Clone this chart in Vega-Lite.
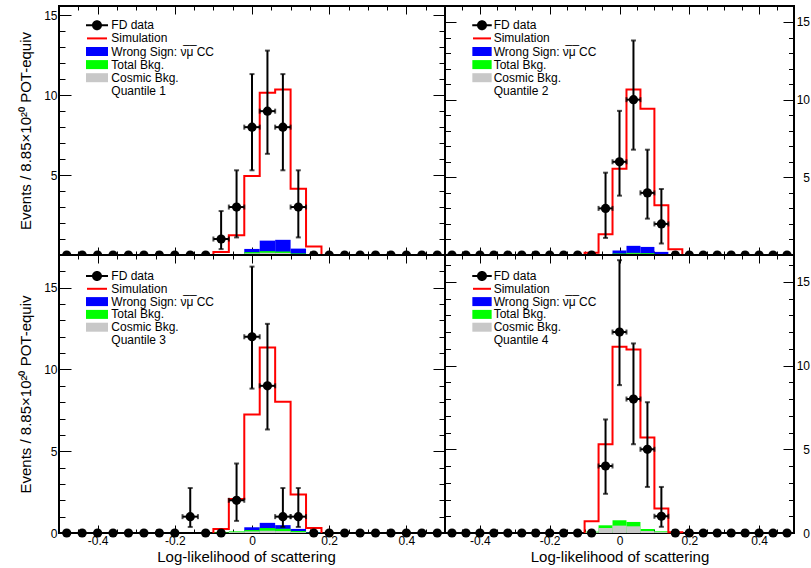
{
  "$schema": "https://vega.github.io/schema/vega-lite/v6.json",
  "padding": {"left": 17, "top": 4, "right": 0, "bottom": 0},
  "background": "white",
  "columns": 2,
  "spacing": 0,
  "bounds": "flush",
  "resolve": {"scale": {"color": "independent", "shape": "independent"}, "legend": {"color": "independent", "shape": "independent"}},
  "config": {
    "font": "Liberation Sans",
    "view": {"stroke": "black", "strokeWidth": 2},
    "axis": {"domain": false, "grid": false, "tickColor": "black", "tickWidth": 1, "labelColor": "black", "labelFont": "Liberation Sans", "labelFontSize": 12, "titleFont": "Liberation Sans", "titleFontSize": 15, "titleFontWeight": "normal", "titleColor": "black", "labelFlush": false, "labelOverlap": false, "zindex": 1},
    "legend": {"labelFont": "Liberation Sans", "labelFontSize": 12, "labelColor": "black", "symbolStrokeWidth": 0, "symbolOpacity": 1, "padding": 0, "titlePadding": 0}
  },
  "datasets": {
    "fd": [
      {"q":1,"x":-0.48,"n":0},{"q":1,"x":-0.44,"n":0},{"q":1,"x":-0.4,"n":0},{"q":1,"x":-0.36,"n":0},{"q":1,"x":-0.32,"n":0},{"q":1,"x":-0.28,"n":0},{"q":1,"x":-0.24,"n":0},{"q":1,"x":-0.2,"n":0},{"q":1,"x":-0.16,"n":0},{"q":1,"x":-0.12,"n":0},
      {"q":1,"x":-0.08,"x0":-0.1,"x1":-0.06,"n":1,"lo":0.37,"hi":2.75},
      {"q":1,"x":-0.04,"x0":-0.06,"x1":-0.02,"n":3,"lo":1.1,"hi":5.3},
      {"q":1,"x":0,"x0":-0.02,"x1":0.02,"n":8,"lo":5.3,"hi":11.32},
      {"q":1,"x":0.04,"x0":0.02,"x1":0.06,"n":9,"lo":6.33,"hi":12.79},
      {"q":1,"x":0.08,"x0":0.06,"x1":0.1,"n":8,"lo":5.3,"hi":11.32},
      {"q":1,"x":0.12,"x0":0.1,"x1":0.14,"n":3,"lo":1.1,"hi":5.3},
      {"q":1,"x":0.16,"n":0},{"q":1,"x":0.2,"n":0},{"q":1,"x":0.24,"n":0},{"q":1,"x":0.28,"n":0},{"q":1,"x":0.32,"n":0},{"q":1,"x":0.36,"n":0},{"q":1,"x":0.4,"n":0},{"q":1,"x":0.44,"n":0},{"q":1,"x":0.48,"n":0},

      {"q":2,"x":-0.48,"n":0},{"q":2,"x":-0.44,"n":0},{"q":2,"x":-0.4,"n":0},{"q":2,"x":-0.36,"n":0},{"q":2,"x":-0.32,"n":0},{"q":2,"x":-0.28,"n":0},{"q":2,"x":-0.24,"n":0},{"q":2,"x":-0.2,"n":0},{"q":2,"x":-0.16,"n":0},{"q":2,"x":-0.12,"n":0},{"q":2,"x":-0.08,"n":0},
      {"q":2,"x":-0.04,"x0":-0.06,"x1":-0.02,"n":3,"lo":1.1,"hi":5.3},
      {"q":2,"x":0,"x0":-0.02,"x1":0.02,"n":6,"lo":3.82,"hi":9.28},
      {"q":2,"x":0.04,"x0":0.02,"x1":0.06,"n":10,"lo":6.78,"hi":13.81},
      {"q":2,"x":0.08,"x0":0.06,"x1":0.1,"n":4,"lo":2.34,"hi":6.78},
      {"q":2,"x":0.12,"x0":0.1,"x1":0.14,"n":2,"lo":0.74,"hi":4.25},
      {"q":2,"x":0.16,"n":0},{"q":2,"x":0.2,"n":0},{"q":2,"x":0.24,"n":0},{"q":2,"x":0.28,"n":0},{"q":2,"x":0.32,"n":0},{"q":2,"x":0.36,"n":0},{"q":2,"x":0.4,"n":0},{"q":2,"x":0.44,"n":0},{"q":2,"x":0.48,"n":0},

      {"q":3,"x":-0.48,"n":0},{"q":3,"x":-0.44,"n":0},{"q":3,"x":-0.4,"n":0},{"q":3,"x":-0.36,"n":0},{"q":3,"x":-0.32,"n":0},{"q":3,"x":-0.28,"n":0},{"q":3,"x":-0.24,"n":0},{"q":3,"x":-0.2,"n":0},
      {"q":3,"x":-0.16,"x0":-0.18,"x1":-0.14,"n":1,"lo":0.37,"hi":2.75},
      {"q":3,"x":-0.12,"n":0},{"q":3,"x":-0.08,"n":0},
      {"q":3,"x":-0.04,"x0":-0.06,"x1":-0.02,"n":2,"lo":0.74,"hi":4.25},
      {"q":3,"x":0,"x0":-0.02,"x1":0.02,"n":12,"lo":8.83,"hi":16.29},
      {"q":3,"x":0.04,"x0":0.02,"x1":0.06,"n":9,"lo":6.33,"hi":12.79},
      {"q":3,"x":0.08,"x0":0.06,"x1":0.1,"n":1,"lo":0.37,"hi":2.75},
      {"q":3,"x":0.12,"x0":0.1,"x1":0.14,"n":1,"lo":0.37,"hi":2.75},
      {"q":3,"x":0.16,"n":0},{"q":3,"x":0.2,"n":0},{"q":3,"x":0.24,"n":0},{"q":3,"x":0.28,"n":0},{"q":3,"x":0.32,"n":0},{"q":3,"x":0.36,"n":0},{"q":3,"x":0.4,"n":0},{"q":3,"x":0.44,"n":0},{"q":3,"x":0.48,"n":0},

      {"q":4,"x":-0.48,"n":0},{"q":4,"x":-0.44,"n":0},{"q":4,"x":-0.4,"n":0},{"q":4,"x":-0.36,"n":0},{"q":4,"x":-0.32,"n":0},{"q":4,"x":-0.28,"n":0},{"q":4,"x":-0.24,"n":0},{"q":4,"x":-0.2,"n":0},{"q":4,"x":-0.16,"n":0},{"q":4,"x":-0.12,"n":0},{"q":4,"x":-0.08,"n":0},
      {"q":4,"x":-0.04,"x0":-0.06,"x1":-0.02,"n":4,"lo":2.34,"hi":6.78},
      {"q":4,"x":0,"x0":-0.02,"x1":0.02,"n":12,"lo":8.83,"hi":16.29},
      {"q":4,"x":0.04,"x0":0.02,"x1":0.06,"n":8,"lo":5.3,"hi":11.32},
      {"q":4,"x":0.08,"x0":0.06,"x1":0.1,"n":5,"lo":2.75,"hi":7.81},
      {"q":4,"x":0.12,"x0":0.1,"x1":0.14,"n":1,"lo":0.37,"hi":2.75},
      {"q":4,"x":0.16,"n":0},{"q":4,"x":0.2,"n":0},{"q":4,"x":0.24,"n":0},{"q":4,"x":0.28,"n":0},{"q":4,"x":0.32,"n":0},{"q":4,"x":0.36,"n":0},{"q":4,"x":0.4,"n":0},{"q":4,"x":0.44,"n":0},{"q":4,"x":0.48,"n":0}
    ],
    "hist": [
      {"q":1,"s":"ws","x0":-0.06,"x1":-0.02,"v":0.05},{"q":1,"s":"ws","x0":-0.02,"x1":0.02,"v":0.38},{"q":1,"s":"ws","x0":0.02,"x1":0.06,"v":0.9},{"q":1,"s":"ws","x0":0.06,"x1":0.1,"v":0.95},{"q":1,"s":"ws","x0":0.1,"x1":0.14,"v":0.4},{"q":1,"s":"ws","x0":0.14,"x1":0.18,"v":0.03},
      {"q":1,"s":"bkg","x0":-0.1,"x1":-0.06,"v":0.02},{"q":1,"s":"bkg","x0":-0.06,"x1":-0.02,"v":0.06},{"q":1,"s":"bkg","x0":-0.02,"x1":0.02,"v":0.18},{"q":1,"s":"bkg","x0":0.02,"x1":0.06,"v":0.24},{"q":1,"s":"bkg","x0":0.06,"x1":0.1,"v":0.22},{"q":1,"s":"bkg","x0":0.1,"x1":0.14,"v":0.1},{"q":1,"s":"bkg","x0":0.14,"x1":0.18,"v":0.02},
      {"q":1,"s":"cos","x0":-0.06,"x1":-0.02,"v":0.03},{"q":1,"s":"cos","x0":-0.02,"x1":0.02,"v":0.1},{"q":1,"s":"cos","x0":0.02,"x1":0.06,"v":0.14},{"q":1,"s":"cos","x0":0.06,"x1":0.1,"v":0.13},{"q":1,"s":"cos","x0":0.1,"x1":0.14,"v":0.06},

      {"q":2,"s":"ws","x0":-0.06,"x1":-0.02,"v":0.03},{"q":2,"s":"ws","x0":-0.02,"x1":0.02,"v":0.29},{"q":2,"s":"ws","x0":0.02,"x1":0.06,"v":0.59},{"q":2,"s":"ws","x0":0.06,"x1":0.1,"v":0.52},{"q":2,"s":"ws","x0":0.1,"x1":0.14,"v":0.2},{"q":2,"s":"ws","x0":0.14,"x1":0.18,"v":0.02},
      {"q":2,"s":"bkg","x0":-0.06,"x1":-0.02,"v":0.04},{"q":2,"s":"bkg","x0":-0.02,"x1":0.02,"v":0.1},{"q":2,"s":"bkg","x0":0.02,"x1":0.06,"v":0.14},{"q":2,"s":"bkg","x0":0.06,"x1":0.1,"v":0.12},{"q":2,"s":"bkg","x0":0.1,"x1":0.14,"v":0.06},
      {"q":2,"s":"cos","x0":-0.02,"x1":0.02,"v":0.06},{"q":2,"s":"cos","x0":0.02,"x1":0.06,"v":0.08},{"q":2,"s":"cos","x0":0.06,"x1":0.1,"v":0.07},{"q":2,"s":"cos","x0":0.1,"x1":0.14,"v":0.03},

      {"q":3,"s":"ws","x0":-0.06,"x1":-0.02,"v":0.04},{"q":3,"s":"ws","x0":-0.02,"x1":0.02,"v":0.35},{"q":3,"s":"ws","x0":0.02,"x1":0.06,"v":0.62},{"q":3,"s":"ws","x0":0.06,"x1":0.1,"v":0.48},{"q":3,"s":"ws","x0":0.1,"x1":0.14,"v":0.25},{"q":3,"s":"ws","x0":0.14,"x1":0.18,"v":0.03},
      {"q":3,"s":"bkg","x0":-0.1,"x1":-0.06,"v":0.03},{"q":3,"s":"bkg","x0":-0.06,"x1":-0.02,"v":0.1},{"q":3,"s":"bkg","x0":-0.02,"x1":0.02,"v":0.18},{"q":3,"s":"bkg","x0":0.02,"x1":0.06,"v":0.3},{"q":3,"s":"bkg","x0":0.06,"x1":0.1,"v":0.26},{"q":3,"s":"bkg","x0":0.1,"x1":0.14,"v":0.12},{"q":3,"s":"bkg","x0":0.14,"x1":0.18,"v":0.02},
      {"q":3,"s":"cos","x0":-0.06,"x1":-0.02,"v":0.05},{"q":3,"s":"cos","x0":-0.02,"x1":0.02,"v":0.1},{"q":3,"s":"cos","x0":0.02,"x1":0.06,"v":0.14},{"q":3,"s":"cos","x0":0.06,"x1":0.1,"v":0.12},{"q":3,"s":"cos","x0":0.1,"x1":0.14,"v":0.05},

      {"q":4,"s":"ws","x0":-0.06,"x1":-0.02,"v":0.04},{"q":4,"s":"ws","x0":-0.02,"x1":0.02,"v":0.06},{"q":4,"s":"ws","x0":0.02,"x1":0.06,"v":0.05},{"q":4,"s":"ws","x0":0.06,"x1":0.1,"v":0.03},
      {"q":4,"s":"bkg","x0":-0.1,"x1":-0.06,"v":0.08},{"q":4,"s":"bkg","x0":-0.06,"x1":-0.02,"v":0.46},{"q":4,"s":"bkg","x0":-0.02,"x1":0.02,"v":0.76},{"q":4,"s":"bkg","x0":0.02,"x1":0.06,"v":0.66},{"q":4,"s":"bkg","x0":0.06,"x1":0.1,"v":0.24},{"q":4,"s":"bkg","x0":0.1,"x1":0.14,"v":0.1},
      {"q":4,"s":"cos","x0":-0.1,"x1":-0.06,"v":0.04},{"q":4,"s":"cos","x0":-0.06,"x1":-0.02,"v":0.3},{"q":4,"s":"cos","x0":-0.02,"x1":0.02,"v":0.44},{"q":4,"s":"cos","x0":0.02,"x1":0.06,"v":0.4},{"q":4,"s":"cos","x0":0.06,"x1":0.1,"v":0.12},{"q":4,"s":"cos","x0":0.1,"x1":0.14,"v":0.05}
    ],
    "sim": [
      {"q":1,"i":0,"x":-0.1,"v":0},{"q":1,"i":1,"x":-0.1,"v":0.18},{"q":1,"i":2,"x":-0.06,"v":1.23},{"q":1,"i":3,"x":-0.02,"v":4.94},{"q":1,"i":4,"x":0.02,"v":10.15},{"q":1,"i":5,"x":0.06,"v":10.35},{"q":1,"i":6,"x":0.1,"v":4.15},{"q":1,"i":7,"x":0.14,"v":0.53},{"q":1,"i":8,"x":0.18,"v":0},
      {"q":2,"i":0,"x":-0.1,"v":0},{"q":2,"i":1,"x":-0.1,"v":0.15},{"q":2,"i":2,"x":-0.06,"v":1.33},{"q":2,"i":3,"x":-0.02,"v":5.55},{"q":2,"i":4,"x":0.02,"v":10.65},{"q":2,"i":5,"x":0.06,"v":9.41},{"q":2,"i":6,"x":0.1,"v":3.21},{"q":2,"i":7,"x":0.14,"v":0.37},{"q":2,"i":8,"x":0.18,"v":0},
      {"q":3,"i":0,"x":-0.1,"v":0},{"q":3,"i":1,"x":-0.1,"v":0.25},{"q":3,"i":2,"x":-0.06,"v":2.08},{"q":3,"i":3,"x":-0.02,"v":7.25},{"q":3,"i":4,"x":0.02,"v":11.35},{"q":3,"i":5,"x":0.06,"v":8.02},{"q":3,"i":6,"x":0.1,"v":2.35},{"q":3,"i":7,"x":0.14,"v":0.3},{"q":3,"i":8,"x":0.18,"v":0},
      {"q":4,"i":0,"x":-0.1,"v":0},{"q":4,"i":1,"x":-0.1,"v":0.7},{"q":4,"i":2,"x":-0.06,"v":5.3},{"q":4,"i":3,"x":-0.02,"v":11.12},{"q":4,"i":4,"x":0.02,"v":10.96},{"q":4,"i":5,"x":0.06,"v":5.7},{"q":4,"i":6,"x":0.1,"v":1.46},{"q":4,"i":7,"x":0.14,"v":0.05},{"q":4,"i":8,"x":0.18,"v":0}
    ],
    "leg": [
      {"q":1,"entry":"FD data"},{"q":1,"entry":"Simulation"},{"q":1,"entry":"Wrong Sign: ν̅μ̅ CC"},{"q":1,"entry":"Total Bkg."},{"q":1,"entry":"Cosmic Bkg."},{"q":1,"entry":"Quantile 1"},
      {"q":2,"entry":"FD data"},{"q":2,"entry":"Simulation"},{"q":2,"entry":"Wrong Sign: ν̅μ̅ CC"},{"q":2,"entry":"Total Bkg."},{"q":2,"entry":"Cosmic Bkg."},{"q":2,"entry":"Quantile 2"},
      {"q":3,"entry":"FD data"},{"q":3,"entry":"Simulation"},{"q":3,"entry":"Wrong Sign: ν̅μ̅ CC"},{"q":3,"entry":"Total Bkg."},{"q":3,"entry":"Cosmic Bkg."},{"q":3,"entry":"Quantile 3"},
      {"q":4,"entry":"FD data"},{"q":4,"entry":"Simulation"},{"q":4,"entry":"Wrong Sign: ν̅μ̅ CC"},{"q":4,"entry":"Total Bkg."},{"q":4,"entry":"Cosmic Bkg."},{"q":4,"entry":"Quantile 4"}
    ]
  },
  "concat": [
    {
      "width": 386, "height": 249,
      "layer": [
        {"data": {"name": "hist"}, "transform": [{"filter": "datum.q == 1 && datum.s == 'ws'"}],
         "mark": {"type": "rect", "color": "#0000ff"},
         "encoding": {
           "x": {"field": "x0", "type": "quantitative", "scale": {"domain": [-0.5, 0.5], "nice": false, "zero": false}, "axis": {"orient": "bottom", "values": [-0.4,-0.2,0,0.2,0.4], "tickSize": -8, "labels": false, "title": null}},
           "x2": {"field": "x1"},
           "y": {"field": "v", "type": "quantitative", "scale": {"domain": [0, 15.58], "nice": false}, "axis": {"orient": "left", "values": [5,10,15], "tickSize": -12, "labelPadding": 14, "title": "Events / 8.85×10²⁰ POT-equiv", "titlePadding": 10}},
           "y2": {"datum": 0}}},
        {"data": {"name": "hist"}, "transform": [{"filter": "datum.q == 1 && datum.s == 'bkg'"}],
         "mark": {"type": "rect", "color": "#00ff00"},
         "encoding": {
           "x": {"field": "x0", "type": "quantitative", "scale": {"domain": [-0.5, 0.5], "nice": false, "zero": false}, "axis": {"orient": "bottom", "values": [-0.45,-0.35,-0.3,-0.25,-0.15,-0.1,-0.05,0.05,0.1,0.15,0.25,0.3,0.35,0.45], "tickSize": -4, "labels": false, "title": null}},
           "x2": {"field": "x1"},
           "y": {"field": "v", "type": "quantitative", "scale": {"domain": [0, 15.58], "nice": false}, "axis": {"orient": "left", "values": [1,2,3,4,6,7,8,9,11,12,13,14], "tickSize": -6, "labels": false, "title": null}},
           "y2": {"datum": 0}}},
        {"data": {"name": "hist"}, "transform": [{"filter": "datum.q == 1 && datum.s == 'cos'"}],
         "mark": {"type": "rect", "color": "#c8c8c8"},
         "encoding": {
           "x": {"field": "x0", "type": "quantitative", "scale": {"domain": [-0.5, 0.5], "nice": false, "zero": false}, "axis": {"orient": "top", "values": [-0.4,-0.2,0,0.2,0.4], "tickSize": -8, "labels": false, "title": null}},
           "x2": {"field": "x1"},
           "y": {"field": "v", "type": "quantitative", "scale": {"domain": [0, 15.58], "nice": false}, "axis": {"orient": "right", "values": [0,5,10,15], "tickSize": -12, "labels": false, "title": null}},
           "y2": {"datum": 0}}},
        {"data": {"name": "sim"}, "transform": [{"filter": "datum.q == 1"}],
         "mark": {"type": "line", "color": "#ff0000", "strokeWidth": 2, "interpolate": "step-after"},
         "encoding": {
           "x": {"field": "x", "type": "quantitative", "scale": {"domain": [-0.5, 0.5], "nice": false, "zero": false}, "axis": {"orient": "top", "values": [-0.45,-0.35,-0.3,-0.25,-0.15,-0.1,-0.05,0.05,0.1,0.15,0.25,0.3,0.35,0.45], "tickSize": -4, "labels": false, "title": null}},
           "y": {"field": "v", "type": "quantitative", "scale": {"domain": [0, 15.58], "nice": false}, "axis": {"orient": "right", "values": [1,2,3,4,6,7,8,9,11,12,13,14], "tickSize": -6, "labels": false, "title": null}},
           "order": {"field": "i", "type": "quantitative"}}},
        {"data": {"name": "fd"}, "transform": [{"filter": "datum.q == 1 && datum.n > 0"}],
         "mark": {"type": "errorbar", "ticks": true, "size": 5, "thickness": 2, "color": "black"},
         "encoding": {
           "x": {"field": "x", "type": "quantitative", "scale": {"domain": [-0.5, 0.5], "nice": false, "zero": false}, "axis": null},
           "y": {"field": "lo", "type": "quantitative", "scale": {"domain": [0, 15.58], "nice": false}, "axis": null},
           "y2": {"field": "hi"}}},
        {"data": {"name": "fd"}, "transform": [{"filter": "datum.q == 1 && datum.n > 0"}],
         "mark": {"type": "errorbar", "ticks": true, "size": 5, "thickness": 2, "color": "black"},
         "encoding": {
           "x": {"field": "x0", "type": "quantitative", "scale": {"domain": [-0.5, 0.5], "nice": false, "zero": false}, "axis": null},
           "x2": {"field": "x1"},
           "y": {"field": "n", "type": "quantitative", "scale": {"domain": [0, 15.58], "nice": false}, "axis": null}}},
        {"data": {"name": "fd"}, "transform": [{"filter": "datum.q == 1"}],
         "mark": {"type": "point", "filled": true, "size": 85, "color": "black", "opacity": 1, "clip": true},
         "encoding": {
           "x": {"field": "x", "type": "quantitative", "scale": {"domain": [-0.5, 0.5], "nice": false, "zero": false}, "axis": null},
           "y": {"field": "n", "type": "quantitative", "scale": {"domain": [0, 15.58], "nice": false}, "axis": null}}},
        {"data": {"name": "leg"}, "transform": [{"filter": "datum.q == 1"}],
         "mark": {"type": "point", "filled": true, "opacity": 0},
         "encoding": {
           "color": {"field": "entry", "type": "nominal", "scale": {"domain": ["FD data","Simulation","Wrong Sign: ν̅μ̅ CC","Total Bkg.","Cosmic Bkg.","Quantile 1"], "range": ["black","#ff0000","#0000ff","#00ff00","#c8c8c8","white"]},
             "legend": {"title": null, "orient": "none", "legendX": 32, "legendY": 13.3, "symbolSize": 100, "labelOffset": 8.3, "symbolOffset": 0, "labelLimit": 400, "rowPadding": 1.1}},
           "shape": {"field": "entry", "type": "nominal", "scale": {"domain": ["FD data","Simulation","Wrong Sign: ν̅μ̅ CC","Total Bkg.","Cosmic Bkg.","Quantile 1"], "range": ["M-2.2,-0.2H2.2V0.2H-2.2Z M-1,0A1,1,0,1,1,1,0A1,1,0,1,1,-1,0Z","M-2,-0.2H2V0.2H-2Z","M-2.2,-0.9H2.2V0.9H-2.2Z","M-2.2,-0.9H2.2V0.9H-2.2Z","M-2.2,-0.9H2.2V0.9H-2.2Z","M0,0Z"]},
             "legend": {"title": null, "orient": "none", "legendX": 32, "legendY": 13.3, "symbolSize": 100, "labelOffset": 8.3, "symbolOffset": 0, "labelLimit": 400, "rowPadding": 1.1}}}}
      ],
      "resolve": {"axis": {"x": "independent", "y": "independent"}}
    },
    {
      "width": 349, "height": 249,
      "layer": [
        {"data": {"name": "hist"}, "transform": [{"filter": "datum.q == 2 && datum.s == 'ws'"}],
         "mark": {"type": "rect", "color": "#0000ff"},
         "encoding": {
           "x": {"field": "x0", "type": "quantitative", "scale": {"domain": [-0.5, 0.5], "nice": false, "zero": false}, "axis": {"orient": "bottom", "values": [-0.4,-0.2,0,0.2,0.4], "tickSize": -8, "labels": false, "title": null}},
           "x2": {"field": "x1"},
           "y": {"field": "v", "type": "quantitative", "scale": {"domain": [0, 16.03], "nice": false}, "axis": {"orient": "left", "values": [0,5,10,15], "tickSize": -11, "labels": false, "title": null}},
           "y2": {"datum": 0}}},
        {"data": {"name": "hist"}, "transform": [{"filter": "datum.q == 2 && datum.s == 'bkg'"}],
         "mark": {"type": "rect", "color": "#00ff00"},
         "encoding": {
           "x": {"field": "x0", "type": "quantitative", "scale": {"domain": [-0.5, 0.5], "nice": false, "zero": false}, "axis": {"orient": "bottom", "values": [-0.45,-0.35,-0.3,-0.25,-0.15,-0.1,-0.05,0.05,0.1,0.15,0.25,0.3,0.35,0.45], "tickSize": -4, "labels": false, "title": null}},
           "x2": {"field": "x1"},
           "y": {"field": "v", "type": "quantitative", "scale": {"domain": [0, 16.03], "nice": false}, "axis": {"orient": "left", "values": [1,2,3,4,6,7,8,9,11,12,13,14,16], "tickSize": -5.5, "labels": false, "title": null}},
           "y2": {"datum": 0}}},
        {"data": {"name": "hist"}, "transform": [{"filter": "datum.q == 2 && datum.s == 'cos'"}],
         "mark": {"type": "rect", "color": "#c8c8c8"},
         "encoding": {
           "x": {"field": "x0", "type": "quantitative", "scale": {"domain": [-0.5, 0.5], "nice": false, "zero": false}, "axis": {"orient": "top", "values": [-0.4,-0.2,0,0.2,0.4], "tickSize": -8, "labels": false, "title": null}},
           "x2": {"field": "x1"},
           "y": {"field": "v", "type": "quantitative", "scale": {"domain": [0, 16.03], "nice": false}, "axis": {"orient": "right", "values": [5,10,15], "tickSize": -11, "labelPadding": 26.5, "labelAlign": "right", "title": null}},
           "y2": {"datum": 0}}},
        {"data": {"name": "sim"}, "transform": [{"filter": "datum.q == 2"}],
         "mark": {"type": "line", "color": "#ff0000", "strokeWidth": 2, "interpolate": "step-after"},
         "encoding": {
           "x": {"field": "x", "type": "quantitative", "scale": {"domain": [-0.5, 0.5], "nice": false, "zero": false}, "axis": {"orient": "top", "values": [-0.45,-0.35,-0.3,-0.25,-0.15,-0.1,-0.05,0.05,0.1,0.15,0.25,0.3,0.35,0.45], "tickSize": -4, "labels": false, "title": null}},
           "y": {"field": "v", "type": "quantitative", "scale": {"domain": [0, 16.03], "nice": false}, "axis": {"orient": "right", "values": [1,2,3,4,6,7,8,9,11,12,13,14,16], "tickSize": -5.5, "labels": false, "title": null}},
           "order": {"field": "i", "type": "quantitative"}}},
        {"data": {"name": "fd"}, "transform": [{"filter": "datum.q == 2 && datum.n > 0"}],
         "mark": {"type": "errorbar", "ticks": true, "size": 5, "thickness": 2, "color": "black"},
         "encoding": {
           "x": {"field": "x", "type": "quantitative", "scale": {"domain": [-0.5, 0.5], "nice": false, "zero": false}, "axis": null},
           "y": {"field": "lo", "type": "quantitative", "scale": {"domain": [0, 16.03], "nice": false}, "axis": null},
           "y2": {"field": "hi"}}},
        {"data": {"name": "fd"}, "transform": [{"filter": "datum.q == 2 && datum.n > 0"}],
         "mark": {"type": "errorbar", "ticks": true, "size": 5, "thickness": 2, "color": "black"},
         "encoding": {
           "x": {"field": "x0", "type": "quantitative", "scale": {"domain": [-0.5, 0.5], "nice": false, "zero": false}, "axis": null},
           "x2": {"field": "x1"},
           "y": {"field": "n", "type": "quantitative", "scale": {"domain": [0, 16.03], "nice": false}, "axis": null}}},
        {"data": {"name": "fd"}, "transform": [{"filter": "datum.q == 2"}],
         "mark": {"type": "point", "filled": true, "size": 85, "color": "black", "opacity": 1, "clip": true},
         "encoding": {
           "x": {"field": "x", "type": "quantitative", "scale": {"domain": [-0.5, 0.5], "nice": false, "zero": false}, "axis": null},
           "y": {"field": "n", "type": "quantitative", "scale": {"domain": [0, 16.03], "nice": false}, "axis": null}}},
        {"data": {"name": "leg"}, "transform": [{"filter": "datum.q == 2"}],
         "mark": {"type": "point", "filled": true, "opacity": 0},
         "encoding": {
           "color": {"field": "entry", "type": "nominal", "scale": {"domain": ["FD data","Simulation","Wrong Sign: ν̅μ̅ CC","Total Bkg.","Cosmic Bkg.","Quantile 2"], "range": ["black","#ff0000","#0000ff","#00ff00","#c8c8c8","white"]},
             "legend": {"title": null, "orient": "none", "legendX": 31, "legendY": 13.3, "symbolSize": 100, "labelOffset": 5.7, "symbolOffset": 0, "labelLimit": 400, "rowPadding": 1.1}},
           "shape": {"field": "entry", "type": "nominal", "scale": {"domain": ["FD data","Simulation","Wrong Sign: ν̅μ̅ CC","Total Bkg.","Cosmic Bkg.","Quantile 2"], "range": ["M-1.95,-0.2H1.95V0.2H-1.95Z M-1,0A1,1,0,1,1,1,0A1,1,0,1,1,-1,0Z","M-1.8,-0.2H1.8V0.2H-1.8Z","M-1.93,-0.9H1.93V0.9H-1.93Z","M-1.93,-0.9H1.93V0.9H-1.93Z","M-1.93,-0.9H1.93V0.9H-1.93Z","M0,0Z"]},
             "legend": {"title": null, "orient": "none", "legendX": 31, "legendY": 13.3, "symbolSize": 100, "labelOffset": 5.7, "symbolOffset": 0, "labelLimit": 400, "rowPadding": 1.1}}}}
      ],
      "resolve": {"axis": {"x": "independent", "y": "independent"}}
    },
    {
      "width": 386, "height": 278,
      "layer": [
        {"data": {"name": "hist"}, "transform": [{"filter": "datum.q == 3 && datum.s == 'ws'"}],
         "mark": {"type": "rect", "color": "#0000ff"},
         "encoding": {
           "x": {"field": "x0", "type": "quantitative", "scale": {"domain": [-0.5, 0.5], "nice": false, "zero": false}, "axis": {"orient": "bottom", "values": [-0.4,-0.2,0,0.2,0.4], "tickSize": -8, "labelPadding": 10.5, "labelExpr": "datum.value == 0 ? '0' : (datum.value < 0 ? '-' : '') + format(abs(datum.value), '.1f')", "title": "Log-likelihood of scattering", "titlePadding": 3, "titleX": 187}},
           "x2": {"field": "x1"},
           "y": {"field": "v", "type": "quantitative", "scale": {"domain": [0, 17.0], "nice": false}, "axis": {"orient": "left", "values": [0,5,10,15], "tickSize": -12, "labelPadding": 14, "title": "Events / 8.85×10²⁰ POT-equiv", "titlePadding": 10}},
           "y2": {"datum": 0}}},
        {"data": {"name": "hist"}, "transform": [{"filter": "datum.q == 3 && datum.s == 'bkg'"}],
         "mark": {"type": "rect", "color": "#00ff00"},
         "encoding": {
           "x": {"field": "x0", "type": "quantitative", "scale": {"domain": [-0.5, 0.5], "nice": false, "zero": false}, "axis": {"orient": "bottom", "values": [-0.45,-0.35,-0.3,-0.25,-0.15,-0.1,-0.05,0.05,0.1,0.15,0.25,0.3,0.35,0.45], "tickSize": -4, "labels": false, "title": null}},
           "x2": {"field": "x1"},
           "y": {"field": "v", "type": "quantitative", "scale": {"domain": [0, 17.0], "nice": false}, "axis": {"orient": "left", "values": [1,2,3,4,6,7,8,9,11,12,13,14,16], "tickSize": -6, "labels": false, "title": null}},
           "y2": {"datum": 0}}},
        {"data": {"name": "hist"}, "transform": [{"filter": "datum.q == 3 && datum.s == 'cos'"}],
         "mark": {"type": "rect", "color": "#c8c8c8"},
         "encoding": {
           "x": {"field": "x0", "type": "quantitative", "scale": {"domain": [-0.5, 0.5], "nice": false, "zero": false}, "axis": {"orient": "top", "values": [-0.4,-0.2,0,0.2,0.4], "tickSize": -8, "labels": false, "title": null}},
           "x2": {"field": "x1"},
           "y": {"field": "v", "type": "quantitative", "scale": {"domain": [0, 17.0], "nice": false}, "axis": {"orient": "right", "values": [0,5,10,15], "tickSize": -12, "labels": false, "title": null}},
           "y2": {"datum": 0}}},
        {"data": {"name": "sim"}, "transform": [{"filter": "datum.q == 3"}],
         "mark": {"type": "line", "color": "#ff0000", "strokeWidth": 2, "interpolate": "step-after"},
         "encoding": {
           "x": {"field": "x", "type": "quantitative", "scale": {"domain": [-0.5, 0.5], "nice": false, "zero": false}, "axis": {"orient": "top", "values": [-0.45,-0.35,-0.3,-0.25,-0.15,-0.1,-0.05,0.05,0.1,0.15,0.25,0.3,0.35,0.45], "tickSize": -4, "labels": false, "title": null}},
           "y": {"field": "v", "type": "quantitative", "scale": {"domain": [0, 17.0], "nice": false}, "axis": {"orient": "right", "values": [1,2,3,4,6,7,8,9,11,12,13,14,16], "tickSize": -6, "labels": false, "title": null}},
           "order": {"field": "i", "type": "quantitative"}}},
        {"data": {"name": "fd"}, "transform": [{"filter": "datum.q == 3 && datum.n > 0"}],
         "mark": {"type": "errorbar", "ticks": true, "size": 5, "thickness": 2, "color": "black"},
         "encoding": {
           "x": {"field": "x", "type": "quantitative", "scale": {"domain": [-0.5, 0.5], "nice": false, "zero": false}, "axis": null},
           "y": {"field": "lo", "type": "quantitative", "scale": {"domain": [0, 17.0], "nice": false}, "axis": null},
           "y2": {"field": "hi"}}},
        {"data": {"name": "fd"}, "transform": [{"filter": "datum.q == 3 && datum.n > 0"}],
         "mark": {"type": "errorbar", "ticks": true, "size": 5, "thickness": 2, "color": "black"},
         "encoding": {
           "x": {"field": "x0", "type": "quantitative", "scale": {"domain": [-0.5, 0.5], "nice": false, "zero": false}, "axis": null},
           "x2": {"field": "x1"},
           "y": {"field": "n", "type": "quantitative", "scale": {"domain": [0, 17.0], "nice": false}, "axis": null}}},
        {"data": {"name": "fd"}, "transform": [{"filter": "datum.q == 3"}],
         "mark": {"type": "point", "filled": true, "size": 85, "color": "black", "opacity": 1},
         "encoding": {
           "x": {"field": "x", "type": "quantitative", "scale": {"domain": [-0.5, 0.5], "nice": false, "zero": false}, "axis": null},
           "y": {"field": "n", "type": "quantitative", "scale": {"domain": [0, 17.0], "nice": false}, "axis": null}}},
        {"data": {"name": "leg"}, "transform": [{"filter": "datum.q == 3"}],
         "mark": {"type": "point", "filled": true, "opacity": 0},
         "encoding": {
           "color": {"field": "entry", "type": "nominal", "scale": {"domain": ["FD data","Simulation","Wrong Sign: ν̅μ̅ CC","Total Bkg.","Cosmic Bkg.","Quantile 3"], "range": ["black","#ff0000","#0000ff","#00ff00","#c8c8c8","white"]},
             "legend": {"title": null, "orient": "none", "legendX": 32, "legendY": 15, "symbolSize": 100, "labelOffset": 8.3, "symbolOffset": 0, "labelLimit": 400, "rowPadding": 0.8}},
           "shape": {"field": "entry", "type": "nominal", "scale": {"domain": ["FD data","Simulation","Wrong Sign: ν̅μ̅ CC","Total Bkg.","Cosmic Bkg.","Quantile 3"], "range": ["M-2.2,-0.2H2.2V0.2H-2.2Z M-1,0A1,1,0,1,1,1,0A1,1,0,1,1,-1,0Z","M-2,-0.2H2V0.2H-2Z","M-2.2,-0.9H2.2V0.9H-2.2Z","M-2.2,-0.9H2.2V0.9H-2.2Z","M-2.2,-0.9H2.2V0.9H-2.2Z","M0,0Z"]},
             "legend": {"title": null, "orient": "none", "legendX": 32, "legendY": 15, "symbolSize": 100, "labelOffset": 8.3, "symbolOffset": 0, "labelLimit": 400, "rowPadding": 0.8}}}}
      ],
      "resolve": {"axis": {"x": "independent", "y": "independent"}}
    },
    {
      "width": 349, "height": 278,
      "layer": [
        {"data": {"name": "hist"}, "transform": [{"filter": "datum.q == 4 && datum.s == 'ws'"}],
         "mark": {"type": "rect", "color": "#0000ff"},
         "encoding": {
           "x": {"field": "x0", "type": "quantitative", "scale": {"domain": [-0.5, 0.5], "nice": false, "zero": false}, "axis": {"orient": "bottom", "values": [-0.4,-0.2,0,0.2,0.4], "tickSize": -8, "labelPadding": 10.5, "labelExpr": "datum.value == 0 ? '0' : (datum.value < 0 ? '-' : '') + format(abs(datum.value), '.1f')", "title": "Log-likelihood of scattering", "titlePadding": 3}},
           "x2": {"field": "x1"},
           "y": {"field": "v", "type": "quantitative", "scale": {"domain": [0, 16.6], "nice": false}, "axis": {"orient": "left", "values": [0,5,10,15], "tickSize": -11, "labels": false, "title": null}},
           "y2": {"datum": 0}}},
        {"data": {"name": "hist"}, "transform": [{"filter": "datum.q == 4 && datum.s == 'bkg'"}],
         "mark": {"type": "rect", "color": "#00ff00"},
         "encoding": {
           "x": {"field": "x0", "type": "quantitative", "scale": {"domain": [-0.5, 0.5], "nice": false, "zero": false}, "axis": {"orient": "bottom", "values": [-0.45,-0.35,-0.3,-0.25,-0.15,-0.1,-0.05,0.05,0.1,0.15,0.25,0.3,0.35,0.45], "tickSize": -4, "labels": false, "title": null}},
           "x2": {"field": "x1"},
           "y": {"field": "v", "type": "quantitative", "scale": {"domain": [0, 16.6], "nice": false}, "axis": {"orient": "left", "values": [1,2,3,4,6,7,8,9,11,12,13,14,16], "tickSize": -5.5, "labels": false, "title": null}},
           "y2": {"datum": 0}}},
        {"data": {"name": "hist"}, "transform": [{"filter": "datum.q == 4 && datum.s == 'cos'"}],
         "mark": {"type": "rect", "color": "#c8c8c8"},
         "encoding": {
           "x": {"field": "x0", "type": "quantitative", "scale": {"domain": [-0.5, 0.5], "nice": false, "zero": false}, "axis": {"orient": "top", "values": [-0.4,-0.2,0,0.2,0.4], "tickSize": -8, "labels": false, "title": null}},
           "x2": {"field": "x1"},
           "y": {"field": "v", "type": "quantitative", "scale": {"domain": [0, 16.6], "nice": false}, "axis": {"orient": "right", "values": [0,5,10,15], "tickSize": -11, "labelPadding": 26.5, "labelAlign": "right", "title": null}},
           "y2": {"datum": 0}}},
        {"data": {"name": "sim"}, "transform": [{"filter": "datum.q == 4"}],
         "mark": {"type": "line", "color": "#ff0000", "strokeWidth": 2, "interpolate": "step-after"},
         "encoding": {
           "x": {"field": "x", "type": "quantitative", "scale": {"domain": [-0.5, 0.5], "nice": false, "zero": false}, "axis": {"orient": "top", "values": [-0.45,-0.35,-0.3,-0.25,-0.15,-0.1,-0.05,0.05,0.1,0.15,0.25,0.3,0.35,0.45], "tickSize": -4, "labels": false, "title": null}},
           "y": {"field": "v", "type": "quantitative", "scale": {"domain": [0, 16.6], "nice": false}, "axis": {"orient": "right", "values": [1,2,3,4,6,7,8,9,11,12,13,14,16], "tickSize": -5.5, "labels": false, "title": null}},
           "order": {"field": "i", "type": "quantitative"}}},
        {"data": {"name": "fd"}, "transform": [{"filter": "datum.q == 4 && datum.n > 0"}],
         "mark": {"type": "errorbar", "ticks": true, "size": 5, "thickness": 2, "color": "black"},
         "encoding": {
           "x": {"field": "x", "type": "quantitative", "scale": {"domain": [-0.5, 0.5], "nice": false, "zero": false}, "axis": null},
           "y": {"field": "lo", "type": "quantitative", "scale": {"domain": [0, 16.6], "nice": false}, "axis": null},
           "y2": {"field": "hi"}}},
        {"data": {"name": "fd"}, "transform": [{"filter": "datum.q == 4 && datum.n > 0"}],
         "mark": {"type": "errorbar", "ticks": true, "size": 5, "thickness": 2, "color": "black"},
         "encoding": {
           "x": {"field": "x0", "type": "quantitative", "scale": {"domain": [-0.5, 0.5], "nice": false, "zero": false}, "axis": null},
           "x2": {"field": "x1"},
           "y": {"field": "n", "type": "quantitative", "scale": {"domain": [0, 16.6], "nice": false}, "axis": null}}},
        {"data": {"name": "fd"}, "transform": [{"filter": "datum.q == 4"}],
         "mark": {"type": "point", "filled": true, "size": 85, "color": "black", "opacity": 1},
         "encoding": {
           "x": {"field": "x", "type": "quantitative", "scale": {"domain": [-0.5, 0.5], "nice": false, "zero": false}, "axis": null},
           "y": {"field": "n", "type": "quantitative", "scale": {"domain": [0, 16.6], "nice": false}, "axis": null}}},
        {"data": {"name": "leg"}, "transform": [{"filter": "datum.q == 4"}],
         "mark": {"type": "point", "filled": true, "opacity": 0},
         "encoding": {
           "color": {"field": "entry", "type": "nominal", "scale": {"domain": ["FD data","Simulation","Wrong Sign: ν̅μ̅ CC","Total Bkg.","Cosmic Bkg.","Quantile 4"], "range": ["black","#ff0000","#0000ff","#00ff00","#c8c8c8","white"]},
             "legend": {"title": null, "orient": "none", "legendX": 31, "legendY": 15, "symbolSize": 100, "labelOffset": 5.7, "symbolOffset": 0, "labelLimit": 400, "rowPadding": 0.8}},
           "shape": {"field": "entry", "type": "nominal", "scale": {"domain": ["FD data","Simulation","Wrong Sign: ν̅μ̅ CC","Total Bkg.","Cosmic Bkg.","Quantile 4"], "range": ["M-1.95,-0.2H1.95V0.2H-1.95Z M-1,0A1,1,0,1,1,1,0A1,1,0,1,1,-1,0Z","M-1.8,-0.2H1.8V0.2H-1.8Z","M-1.93,-0.9H1.93V0.9H-1.93Z","M-1.93,-0.9H1.93V0.9H-1.93Z","M-1.93,-0.9H1.93V0.9H-1.93Z","M0,0Z"]},
             "legend": {"title": null, "orient": "none", "legendX": 31, "legendY": 15, "symbolSize": 100, "labelOffset": 5.7, "symbolOffset": 0, "labelLimit": 400, "rowPadding": 0.8}}}}
      ],
      "resolve": {"axis": {"x": "independent", "y": "independent"}}
    }
  ]
}
